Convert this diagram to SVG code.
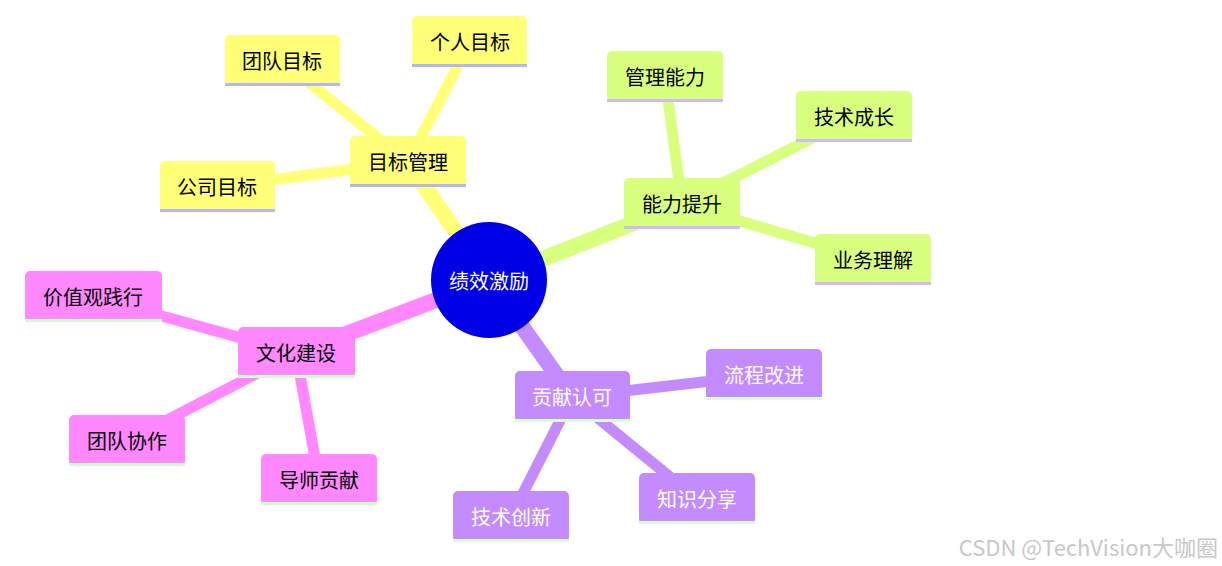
<svg xmlns="http://www.w3.org/2000/svg" width="1222" height="566" viewBox="0 0 1222 566">
<style>
text{font-family:"Noto Sans CJK SC","Noto Sans",sans-serif;font-size:20px;text-anchor:middle;dominant-baseline:central}
.y{fill:#ffff78}.g{fill:#d9ff7e}.p{fill:#c48bff}.k{fill:#ff88ff}
.uy{fill:#b4b4ff}.ug{fill:#d4b8ff}.up{fill:#d8ffd0}.uk{fill:#ccffcc}
.ey{stroke:#ffff78}.eg{stroke:#d9ff7e}.ep{stroke:#c48bff}.ek{stroke:#ff88ff}
.w{fill:#fff}
</style>
<rect width="1222" height="566" fill="#fff"/>
<g id="edges" fill="none" stroke-linecap="butt">
<g stroke-width="16">
<line class="ey" x1="489" y1="280" x2="408" y2="162"/>
<line class="eg" x1="489" y1="280" x2="682" y2="204"/>
<line class="ep" x1="489" y1="280" x2="572" y2="397"/>
<line class="ek" x1="489" y1="280" x2="296" y2="353"/>
</g>
<g stroke-width="11">
<line class="ey" x1="408" y1="162" x2="470" y2="42"/>
<line class="ey" x1="408" y1="162" x2="282" y2="61"/>
<line class="ey" x1="408" y1="162" x2="217" y2="187"/>
<line class="eg" x1="682" y1="204" x2="665" y2="77"/>
<line class="eg" x1="682" y1="204" x2="854" y2="117"/>
<line class="eg" x1="682" y1="204" x2="873" y2="260"/>
<line class="ep" x1="572" y1="397" x2="764" y2="375"/>
<line class="ep" x1="572" y1="397" x2="697" y2="499"/>
<line class="ep" x1="572" y1="397" x2="511" y2="517"/>
<line class="ek" x1="296" y1="353" x2="93" y2="297"/>
<line class="ek" x1="296" y1="353" x2="127" y2="441"/>
<line class="ek" x1="296" y1="353" x2="319" y2="480"/>
</g>
</g>
<g id="root"><circle cx="489" cy="280" r="58" fill="#0000e6"/><text x="489" y="280" class="w">绩效激励</text></g>
<g id="n1"><rect class="y" x="350" y="136" width="116" height="51" rx="5"/><rect class="uy" x="350" y="184" width="116" height="3"/><text x="408" y="161">目标管理</text></g>
<g id="n2"><rect class="g" x="624" y="178" width="116" height="51" rx="5"/><rect class="ug" x="624" y="226" width="116" height="3"/><text x="682" y="203">能力提升</text></g>
<g id="n3"><rect class="p" x="515" y="371" width="115" height="51" rx="5"/><rect class="up" x="515" y="419" width="115" height="3"/><text x="572" y="396" class="w">贡献认可</text></g>
<g id="n4"><rect class="k" x="238" y="327" width="117" height="51" rx="5"/><rect class="uk" x="238" y="375" width="117" height="3"/><text x="296" y="352">文化建设</text></g>
<g id="l1"><rect class="y" x="412" y="16" width="115" height="51" rx="5"/><rect class="uy" x="412" y="64" width="115" height="3"/><text x="470" y="41">个人目标</text></g>
<g id="l2"><rect class="y" x="225" y="35" width="115" height="51" rx="5"/><rect class="uy" x="225" y="83" width="115" height="3"/><text x="282" y="60">团队目标</text></g>
<g id="l3"><rect class="y" x="160" y="161" width="115" height="51" rx="5"/><rect class="uy" x="160" y="209" width="115" height="3"/><text x="217" y="186">公司目标</text></g>
<g id="l4"><rect class="g" x="607" y="51" width="116" height="51" rx="5"/><rect class="ug" x="607" y="99" width="116" height="3"/><text x="665" y="76">管理能力</text></g>
<g id="l5"><rect class="g" x="796" y="91" width="116" height="51" rx="5"/><rect class="ug" x="796" y="139" width="116" height="3"/><text x="854" y="116">技术成长</text></g>
<g id="l6"><rect class="g" x="815" y="234" width="116" height="51" rx="5"/><rect class="ug" x="815" y="282" width="116" height="3"/><text x="873" y="259">业务理解</text></g>
<g id="l7"><rect class="p" x="706" y="349" width="116" height="51" rx="5"/><rect class="up" x="706" y="397" width="116" height="3"/><text x="764" y="374" class="w">流程改进</text></g>
<g id="l8"><rect class="p" x="639" y="473" width="116" height="51" rx="5"/><rect class="up" x="639" y="521" width="116" height="3"/><text x="697" y="498" class="w">知识分享</text></g>
<g id="l9"><rect class="p" x="453" y="491" width="116" height="51" rx="5"/><rect class="up" x="453" y="539" width="116" height="3"/><text x="511" y="516" class="w">技术创新</text></g>
<g id="l10"><rect class="k" x="25" y="271" width="137" height="51" rx="5"/><rect class="uk" x="25" y="319" width="137" height="3"/><text x="93" y="296">价值观践行</text></g>
<g id="l11"><rect class="k" x="69" y="415" width="116" height="51" rx="5"/><rect class="uk" x="69" y="463" width="116" height="3"/><text x="127" y="440">团队协作</text></g>
<g id="l12"><rect class="k" x="261" y="454" width="116" height="51" rx="5"/><rect class="uk" x="261" y="502" width="116" height="3"/><text x="319" y="479">导师贡献</text></g>
<text x="1218" y="546" style="font-size:22px;fill:#c8c8c8;text-anchor:end">CSDN @TechVision大咖圈</text>
</svg>
